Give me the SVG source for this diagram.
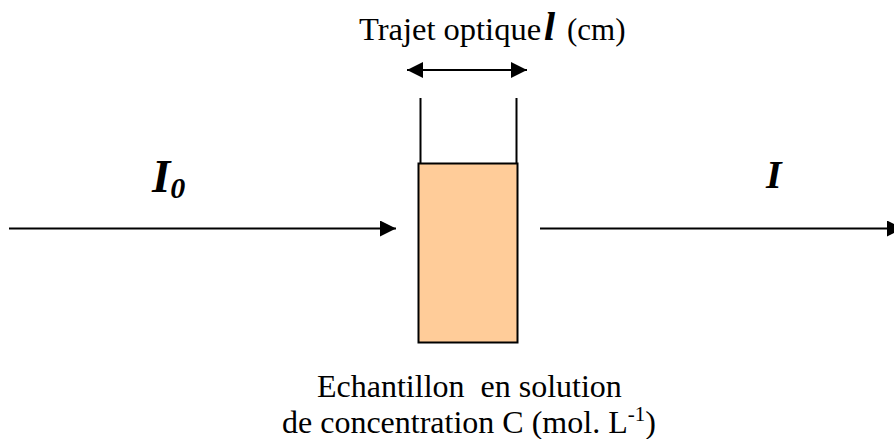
<svg xmlns="http://www.w3.org/2000/svg" width="894" height="439" viewBox="0 0 894 439">
<style>
text{font-family:"Liberation Serif","Times New Roman",serif;fill:#000}
.t{font-size:32px}
.b{font-weight:bold;font-style:italic}
.l{stroke:#000;stroke-width:2;fill:none}
.h{fill:#000;stroke:none}
</style>
<defs>
<marker id="a" markerUnits="userSpaceOnUse" markerWidth="16" markerHeight="16" refX="16" refY="8" orient="auto-start-reverse"><path class="h" d="M0 0L16 8L0 16Z"/></marker>
</defs>
<rect width="894" height="439" fill="#fff"/>
<g id="connectors">
<line class="l" x1="9" y1="228.500" x2="396" y2="228.500" marker-end="url(#a)"/>
<line class="l" x1="540" y1="228.500" x2="903" y2="228.500" marker-end="url(#a)"/>
<line class="l" x1="407" y1="70" x2="527" y2="70" marker-start="url(#a)" marker-end="url(#a)"/>
</g>
<g id="cuve">
<line class="l" x1="420.500" y1="98" x2="420.500" y2="164"/>
<line class="l" x1="516.500" y1="98" x2="516.500" y2="164"/>
<rect x="418.500" y="163.500" width="99" height="179" fill="#ffcc99" stroke="#000" stroke-width="2"/>
</g>
<g id="label-trajet"><text class="t" x="359" y="40" style="font-size:32.500px">Trajet optique</text><text class="b" x="544" y="40" font-size="40px">l</text><text class="t" x="567" y="40" style="font-size:31px">(cm)</text></g>
<g id="label-i0"><text class="b" x="152" y="192" font-size="47px">I<tspan font-size="30px" dy="6">0</tspan></text></g>
<g id="label-i"><text class="b" x="766" y="188" font-size="40px">I</text></g>
<g id="label-echantillon">
<text class="t" x="317" y="397" xml:space="preserve">Echantillon  en solution</text>
<text class="t" x="282" y="433">de concentration C (mol. L<tspan font-size="21px" dy="-12">-1</tspan><tspan dy="12">)</tspan></text>
</g>
</svg>
